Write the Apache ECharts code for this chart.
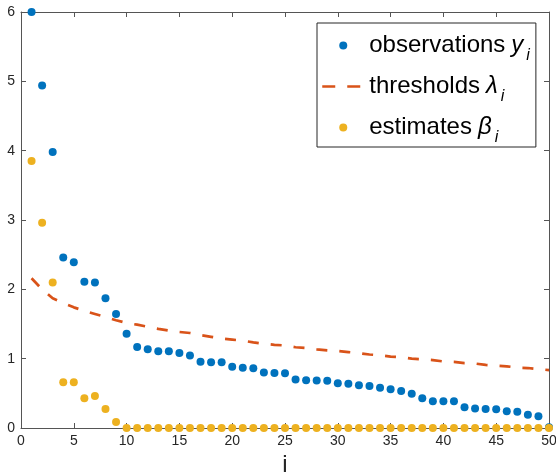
<!DOCTYPE html>
<html>
<head>
<meta charset="utf-8">
<script src="https://cdn.jsdelivr.net/npm/echarts@6/dist/echarts.min.js"></script>
<style>
html,body{margin:0;padding:0;background:#fff;}
#chart{width:556px;height:473px;}
</style>
</head>
<body>
<div id="chart"></div>
<script>
const indices = [1,2,3,4,5,6,7,8,9,10,11,12,13,14,15,16,17,18,19,20,21,22,23,24,25,26,27,28,29,30,31,32,33,34,35,36,37,38,39,40,41,42,43,44,45,46,47,48,49,50];
const observations = [6.00,4.94,3.98,2.46,2.39,2.11,2.10,1.87,1.645,1.36,1.17,1.135,1.107,1.107,1.08,1.045,0.957,0.95,0.947,0.885,0.87,0.86,0.80,0.795,0.79,0.70,0.69,0.685,0.68,0.645,0.64,0.615,0.606,0.58,0.558,0.534,0.495,0.428,0.385,0.385,0.385,0.30,0.28,0.274,0.27,0.24,0.236,0.19,0.168,0.01];
const thresholds = [2.16,2.00,1.87,1.80,1.74,1.69,1.645,1.60,1.555,1.515,1.49,1.46,1.43,1.405,1.385,1.37,1.34,1.315,1.29,1.275,1.26,1.235,1.215,1.20,1.19,1.165,1.155,1.135,1.12,1.11,1.095,1.08,1.06,1.05,1.03,1.02,1.00,0.99,0.98,0.96,0.955,0.935,0.93,0.91,0.90,0.89,0.87,0.865,0.85,0.835];
const estimates = [3.85,2.96,2.10,0.66,0.66,0.43,0.46,0.274,0.087,0,0,0,0,0,0,0,0,0,0,0,0,0,0,0,0,0,0,0,0,0,0,0,0,0,0,0,0,0,0,0,0,0,0,0,0,0,0,0,0,0];
const xTicks = [0,5,10,15,20,25,30,35,40,45,50];
const yTicks = [0,1,2,3,4,5,6];

const pairs = arr => indices.map((x, k) => [x, arr[k]]);
const axisColor = '#555';
const textColor = '#262626';
const font = 'Liberation Sans, Arial, Helvetica, sans-serif';

const chart = echarts.init(document.getElementById('chart'), null, {renderer: 'canvas'});
const rich = {
  t: {fontSize: 24, fontFamily: font, color: '#000', lineHeight: 26},
  it: {fontSize: 24, fontFamily: font, fontStyle: 'italic', color: '#000', lineHeight: 26, padding: [0, 0, 0, 6]},
  sub: {fontSize: 16, fontFamily: font, fontStyle: 'italic', color: '#000', lineHeight: 26, padding: [21, 0, 0, 3]}
};
const legendText = {
  'observations': '{t|observations}{it|y}{sub|i}',
  'thresholds': '{t|thresholds}{it|λ}{sub|i}',
  'estimates': '{t|estimates}{it|β}{sub|i}'
};

chart.setOption({
  animation: false,
  backgroundColor: '#fff',
  grid: {left: 21, right: 7, top: 12, bottom: 45, containLabel: false, outerBoundsMode: 'none'},
  legend: {
    orient: 'vertical',
    left: 317,
    top: 23,
    padding: [4, 6, 1, 4],
    itemGap: 4,
    itemWidth: 42,
    itemHeight: 8,
    borderColor: '#262626',
    borderWidth: 1,
    backgroundColor: '#fff',
    textStyle: {fontSize: 24, fontFamily: font, color: '#000', rich: rich},
    formatter: name => legendText[name],
    data: [
      {name: 'observations', icon: 'circle'},
      {name: 'thresholds', itemStyle: {opacity: 0}, lineStyle: {type: [13, 12], width: 2.5, color: '#D95319'}},
      {name: 'estimates', icon: 'circle'}
    ]
  },
  xAxis: [
    {
      type: 'value', min: 0, max: 50, interval: 5, position: 'bottom',
      name: 'i', nameLocation: 'middle', nameGap: 22,
      nameTextStyle: {fontSize: 24, fontFamily: font, color: textColor},
      axisLine: {show: true, onZero: false, lineStyle: {color: axisColor, width: 1}},
      axisTick: {show: true, inside: true, length: 5, lineStyle: {color: axisColor}},
      axisLabel: {fontSize: 14, fontFamily: font, color: textColor, margin: 6},
      splitLine: {show: false}
    },
    {
      type: 'value', min: 0, max: 50, interval: 5, position: 'top',
      axisLine: {show: true, onZero: false, lineStyle: {color: axisColor, width: 1}},
      axisTick: {show: true, inside: true, length: 5, lineStyle: {color: axisColor}},
      axisLabel: {show: false},
      splitLine: {show: false}
    }
  ],
  yAxis: [
    {
      type: 'value', min: 0, max: 6, interval: 1, position: 'left',
      axisLine: {show: true, onZero: false, lineStyle: {color: axisColor, width: 1}},
      axisTick: {show: true, inside: true, length: 5, lineStyle: {color: axisColor}},
      axisLabel: {fontSize: 14, fontFamily: font, color: textColor, margin: 6},
      splitLine: {show: false}
    },
    {
      type: 'value', min: 0, max: 6, interval: 1, position: 'right',
      axisLine: {show: true, onZero: false, lineStyle: {color: axisColor, width: 1}},
      axisTick: {show: true, inside: true, length: 5, lineStyle: {color: axisColor}},
      axisLabel: {show: false},
      splitLine: {show: false}
    }
  ],
  series: [
    {
      name: 'observations', type: 'scatter', xAxisIndex: 0, yAxisIndex: 0,
      data: pairs(observations), symbol: 'circle', symbolSize: 8,
      itemStyle: {color: '#0072BD', opacity: 1}, z: 2
    },
    {
      name: 'thresholds', type: 'line', xAxisIndex: 0, yAxisIndex: 0,
      data: pairs(thresholds), symbol: 'none', showSymbol: false,
      lineStyle: {color: '#D95319', width: 2.7, type: [11, 12]},
      itemStyle: {color: '#D95319'}, z: 3
    },
    {
      name: 'estimates', type: 'scatter', xAxisIndex: 0, yAxisIndex: 0,
      data: pairs(estimates), symbol: 'circle', symbolSize: 8,
      itemStyle: {color: '#EDB120', opacity: 1}, z: 4
    }
  ]
});
</script>
</body>
</html>
